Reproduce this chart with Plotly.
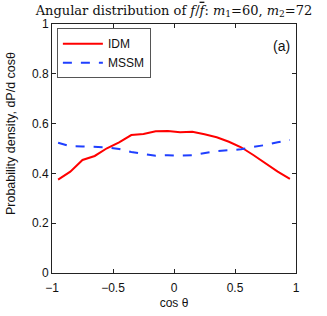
import plotly.graph_objects as go

cos_theta = [-0.95, -0.85, -0.75, -0.65, -0.55, -0.45, -0.35, -0.25, -0.15, -0.05,
             0.05, 0.15, 0.25, 0.35, 0.45, 0.55, 0.65, 0.75, 0.85, 0.95]
idm = [0.375, 0.407, 0.454, 0.470, 0.501, 0.525, 0.554, 0.558, 0.569, 0.570,
       0.565, 0.567, 0.557, 0.545, 0.527, 0.505, 0.474, 0.440, 0.407, 0.378]
mssm = [0.523, 0.509, 0.508, 0.507, 0.505, 0.498, 0.486, 0.478, 0.471, 0.473,
        0.471, 0.473, 0.481, 0.490, 0.493, 0.497, 0.507, 0.514, 0.525, 0.534]

x_ticks = [-1, -0.5, 0, 0.5, 1]
x_ticktext = ["\u22121", "\u22120.5", "0", "0.5", "1"]
y_ticks = [0, 0.2, 0.4, 0.6, 0.8, 1]
y_ticktext = ["0", "0.2", "0.4", "0.6", "0.8", "1"]

fig = go.Figure()
fig.add_trace(go.Scatter(x=cos_theta, y=idm, mode="lines", name="IDM",
                         line=dict(color="#ff0000", width=2)))
fig.add_trace(go.Scatter(x=cos_theta, y=mssm, mode="lines", name="MSSM",
                         line=dict(color="#1f3fff", width=2, dash="dash")))

axis_common = dict(showgrid=False, zeroline=False, showline=True, linecolor="#222",
                   linewidth=1, mirror="ticks", ticks="inside", ticklen=4,
                   tickcolor="#222", tickfont=dict(size=12, color="#111"),
                   automargin=False)

fig.update_layout(
    width=327, height=316,
    margin=dict(l=52, r=31, t=24, b=43),
    paper_bgcolor="white", plot_bgcolor="white",
    font=dict(family="Liberation Sans, Arial, sans-serif", size=12, color="#111"),
    title=dict(text="Angular distribution of <i>f</i>/<i><span style=\"text-decoration:overline\">f</span></i>: <i>m</i><sub>1</sub>=60, <i>m</i><sub>2</sub>=72",
               xref="paper", x=0.5, xanchor="center",
               yref="container", y=0.968, yanchor="middle",
               font=dict(family="DejaVu Serif, Liberation Serif, serif", size=13, color="#111")),
    xaxis=dict(range=[-1, 1], tickvals=x_ticks, ticktext=x_ticktext, ticklabelstandoff=4,
               title=dict(text="cos \u03b8", standoff=4, font=dict(size=12)), **axis_common),
    yaxis=dict(range=[0, 1], tickvals=y_ticks, ticktext=y_ticktext, **axis_common),
    legend=dict(x=0.02, y=0.983, xanchor="left", yanchor="top",
                bgcolor="white", bordercolor="#555", borderwidth=1,
                font=dict(size=12), tracegroupgap=0, itemwidth=40),
    showlegend=True,
    annotations=[
        dict(x=0.984, y=0.91, xref="paper", yref="paper", text="(a)",
             xanchor="right", yanchor="middle",
             showarrow=False, font=dict(size=14, color="#111")),
        dict(x=-0.168, y=0.558, xref="paper", yref="paper",
             text="Probability density, dP/d cos\u03b8", textangle=-90,
             xanchor="center", yanchor="middle",
             showarrow=False, font=dict(size=12.5, color="#111")),
    ],
)

fig.write_html("out.html", config={"displayModeBar": False},
               post_script="document.body.style.margin='0';")
